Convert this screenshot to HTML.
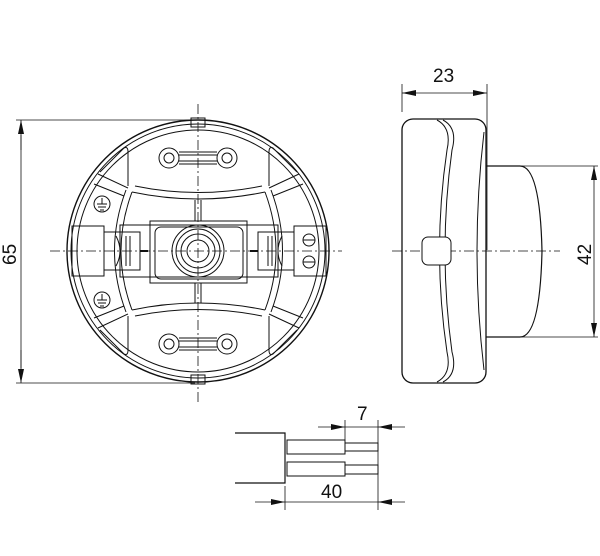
<!DOCTYPE html>
<html><head><meta charset="utf-8"><style>
html,body{margin:0;padding:0;background:#fff;}
svg{display:block;}
text{font-family:"Liberation Sans",sans-serif;font-size:19px;fill:#111;}
</style></head><body>
<svg width="600" height="556" viewBox="0 0 600 556" xmlns="http://www.w3.org/2000/svg">
<defs>
<marker id="ar" markerWidth="14" markerHeight="6" refX="14" refY="3" orient="auto" markerUnits="userSpaceOnUse">
<path d="M0,0 L14,3 L0,6 z" fill="#111"/></marker>
</defs>
<g fill="none" stroke="#111" stroke-width="1">
<line x1="198" y1="104" x2="198" y2="402" stroke-dasharray="10,3,2,3" stroke-width="0.8"/>
<line x1="50" y1="251" x2="342" y2="251" stroke-dasharray="10,3,2,3" stroke-width="0.8"/>
<line x1="392" y1="251" x2="560" y2="251" stroke-dasharray="10,3,2,3" stroke-width="0.8"/>
<line x1="16" y1="120" x2="195" y2="120" stroke-width="0.8"/>
<line x1="16" y1="383" x2="195" y2="383" stroke-width="0.8"/>
<line x1="21" y1="135" x2="21" y2="368" stroke-width="0.8"/>
<line x1="21" y1="150" x2="21" y2="120" marker-end="url(#ar)" stroke-width="0.8"/>
<line x1="21" y1="350" x2="21" y2="383" marker-end="url(#ar)" stroke-width="0.8"/>
<circle cx="198" cy="251" r="131" stroke-width="1.4"/>
<circle cx="198" cy="251" r="127"/>
<circle cx="198" cy="251" r="121"/>
<rect x="191" y="118" width="14" height="9"/>
<rect x="191" y="375" width="14" height="9"/>
<path d="M132,192 Q198,206 265,192"/>
<path d="M135,186 Q198,199 262,186"/>
<path d="M132,310 Q198,296 265,310"/>
<path d="M135,316 Q198,303 262,316"/>
<path d="M132,192 Q110,251 132,310"/>
<path d="M126,190 Q103,251 126,312"/>
<path d="M265,192 Q287,251 265,310"/>
<path d="M271,190 Q294,251 271,312"/>
<path d="M128,188 L98,174 M124,196 L94,184"/>
<path d="M269,188 L299,174 M273,196 L303,184"/>
<path d="M128,314 L98,328 M124,306 L94,318"/>
<path d="M269,314 L299,328 M273,306 L303,318"/>
<path d="M128,186 L128,152 Q128,146 124,148 L100,172"/>
<path d="M269,186 L269,152 Q269,146 273,148 L297,172"/>
<path d="M128,316 L128,350 Q128,356 124,354 L100,330"/>
<path d="M269,316 L269,350 Q269,356 273,354 L297,330"/>
<line x1="195" y1="200" x2="195" y2="221"/><line x1="201" y1="200" x2="201" y2="221"/>
<line x1="195" y1="283" x2="195" y2="303"/><line x1="201" y1="283" x2="201" y2="303"/>
<circle cx="169" cy="158" r="10"/><circle cx="169" cy="158" r="5"/>
<circle cx="227" cy="158" r="10"/><circle cx="227" cy="158" r="5"/>
<path d="M179,152 H217 M179,164 H217 M179,155 H217 M179,161 H217"/>
<circle cx="169" cy="344" r="10"/><circle cx="169" cy="344" r="5"/>
<circle cx="227" cy="344" r="10"/><circle cx="227" cy="344" r="5"/>
<path d="M179,338 H217 M179,350 H217 M179,341 H217 M179,347 H217"/>
<circle cx="102" cy="204" r="8"/><path d="M102,198 V204 M97,204 H107 M98,207 H106 M100,210 H104"/>
<circle cx="102" cy="300" r="8"/><path d="M102,294 V300 M97,300 H107 M98,303 H106 M100,306 H104"/>
<rect x="120" y="225" width="158" height="52"/>
<rect x="150" y="221" width="97" height="62"/>
<rect x="155" y="227" width="88" height="52" rx="6"/>
<circle cx="198" cy="251" r="26"/><circle cx="198" cy="251" r="22"/>
<circle cx="198" cy="251" r="17"/><circle cx="198" cy="251" r="11"/>
<rect x="104" y="232" width="36" height="38"/>
<path d="M116,236 Q124,251 116,266 M120,236 V266 M126,236 V266 M130,236 V266"/>
<rect x="72" y="226" width="32" height="50"/>
<line x1="140" y1="251" x2="148" y2="251" stroke-width="2"/>
<rect x="258" y="232" width="36" height="38"/>
<path d="M282,236 Q274,251 282,266 M278,236 V266 M272,236 V266 M268,236 V266"/>
<rect x="294" y="226" width="32" height="50"/>
<circle cx="309" cy="240" r="6"/><line x1="303" y1="240" x2="315" y2="240"/>
<circle cx="309" cy="262" r="6"/><line x1="303" y1="262" x2="315" y2="262"/>
<line x1="250" y1="251" x2="258" y2="251" stroke-width="2"/>
<line x1="402" y1="84" x2="402" y2="112" stroke-width="0.8"/>
<line x1="487" y1="84" x2="487" y2="250" stroke-width="0.8"/>
<line x1="415" y1="93" x2="402" y2="93" marker-end="url(#ar)" stroke-width="0.8"/>
<line x1="470" y1="93" x2="487" y2="93" marker-end="url(#ar)" stroke-width="0.8"/>
<line x1="415" y1="93" x2="470" y2="93" stroke-width="0.8"/>
<rect x="402" y="119" width="84" height="264" rx="11" stroke-width="1.3"/>
<path d="M437,120 Q452,128 447,150 Q432,251 447,352 Q452,374 437,382"/>
<path d="M443,120 Q458,128 452,150 Q438,251 452,352 Q458,374 443,382"/>
<path d="M484,132 Q470,251 484,370"/>
<rect x="422" y="237" width="29" height="28" rx="6" fill="#fff"/>
<path d="M486,166 H520 Q540,166 542,251 Q540,337 520,337 H486" stroke-width="1.2"/>
<line x1="520" y1="166" x2="598" y2="166" stroke-width="0.8"/>
<line x1="520" y1="337" x2="598" y2="337" stroke-width="0.8"/>
<line x1="594" y1="200" x2="594" y2="166" marker-end="url(#ar)" stroke-width="0.8"/>
<line x1="594" y1="300" x2="594" y2="337" marker-end="url(#ar)" stroke-width="0.8"/>
<line x1="594" y1="200" x2="594" y2="300" stroke-width="0.8"/>
<path d="M235,433 H285 V483 H235" stroke-width="1.2"/>
<rect x="287" y="440" width="58" height="14"/>
<rect x="345" y="443" width="33" height="8"/>
<rect x="287" y="462" width="58" height="14"/>
<rect x="345" y="465" width="33" height="9"/>
<line x1="345" y1="420" x2="345" y2="440" stroke-width="0.8"/>
<line x1="378" y1="420" x2="378" y2="510" stroke-width="0.8"/>
<line x1="285" y1="486" x2="285" y2="510" stroke-width="0.8"/>
<line x1="318" y1="427" x2="345" y2="427" marker-end="url(#ar)" stroke-width="0.8"/>
<line x1="405" y1="427" x2="378" y2="427" marker-end="url(#ar)" stroke-width="0.8"/>
<line x1="345" y1="427" x2="378" y2="427" stroke-width="0.8"/>
<line x1="255" y1="502" x2="285" y2="502" marker-end="url(#ar)" stroke-width="0.8"/>
<line x1="405" y1="502" x2="378" y2="502" marker-end="url(#ar)" stroke-width="0.8"/>
<line x1="285" y1="502" x2="378" y2="502" stroke-width="0.8"/>
</g>
<text x="433" y="82">23</text>
<text x="357" y="420">7</text>
<text x="321" y="498">40</text>
<text x="0" y="0" transform="translate(16,265) rotate(-90)">65</text>
<text x="0" y="0" transform="translate(591,265) rotate(-90)">42</text>
</svg>
</body></html>
